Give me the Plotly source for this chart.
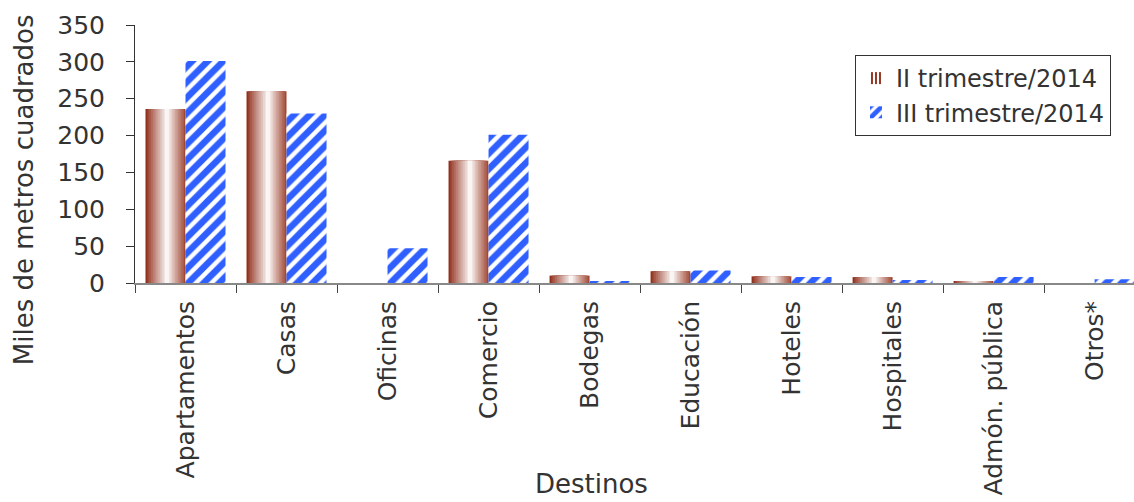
import plotly.graph_objects as go

categories = ["Apartamentos", "Casas", "Oficinas", "Comercio", "Bodegas",
              "Educación", "Hoteles", "Hospitales", "Admón. pública", "Otros*"]
serie_ii = [236, 260, 0, 166, 10, 16, 9, 8, 2.5, 0]
serie_iii = [301, 230, 47, 201, 2, 17, 8, 4, 8, 5]
y_ticks = [0, 50, 100, 150, 200, 250, 300, 350]
name_ii = "II trimestre/2014"
name_iii = "III trimestre/2014"

FONT = "DejaVu Sans"
TXT = "#333333"
BROWN_L = (145, 48, 28)
BROWN_R = (160, 72, 52)
BAR_W = 0.396
WHITE_AT = 0.55
N_LAYERS = 12


def mix(c, t):
    return "rgb(%d,%d,%d)" % tuple(int(round(255 * (1 - t) + v * t)) for v in c)


fig = go.Figure()

# left half of the cylinder-like gradient bars (series II)
for k in range(N_LAYERS):
    t = 1.0 if k == 0 else 1 - (k + 0.5) / N_LAYERS
    w = BAR_W * WHITE_AT * (1 - k / N_LAYERS)
    start = -BAR_W + BAR_W * WHITE_AT * k / N_LAYERS
    fig.add_trace(go.Bar(
        x=categories, y=serie_ii, width=w, offset=start, opacity=1,
        marker=dict(color=mix(BROWN_L, t), line=dict(width=0)),
        showlegend=False, hoverinfo="skip"))

# right half
for k in range(N_LAYERS):
    t = 1.0 if k == 0 else 1 - (k + 0.5) / N_LAYERS
    w = BAR_W * (1 - WHITE_AT) * (1 - k / N_LAYERS)
    start = -BAR_W + BAR_W * WHITE_AT
    fig.add_trace(go.Bar(
        x=categories, y=serie_ii, width=w, offset=start, opacity=1,
        marker=dict(color=mix(BROWN_R, t ** 0.9), line=dict(width=0)),
        showlegend=False, hoverinfo="skip"))

# legend entry for series II
fig.add_trace(go.Bar(
    x=[None], y=[None], name=name_ii, legendgroup="a", opacity=1,
    marker=dict(color="rgb(150,55,35)", line=dict(width=0),
                pattern=dict(shape="|", fgcolor="white", bgcolor="rgb(150,55,35)",
                             size=5, solidity=0.5, fgopacity=1, fillmode="replace"))))

# series III: blue diagonal pattern
fig.add_trace(go.Bar(
    x=categories, y=serie_iii, width=BAR_W, offset=0.0, name=name_iii, legendgroup="b",
    opacity=1,
    marker=dict(color="white", opacity=1, line=dict(width=0),
                pattern=dict(shape="/", fgcolor="#2f5fff", bgcolor="white",
                             size=11, solidity=0.6, fgopacity=1, fillmode="replace"))))

fig.update_layout(
    width=1134, height=502,
    margin=dict(l=135, r=0, t=25, b=219, autoexpand=False),
    barmode="overlay",
    paper_bgcolor="white", plot_bgcolor="white",
    font=dict(family=FONT, color=TXT, size=25),
    showlegend=True,
    legend=dict(x=0.7207, y=0.8837, xanchor="left", yanchor="top",
                bordercolor="#333333", borderwidth=1, bgcolor="white",
                font=dict(family=FONT, size=24, color=TXT),
                tracegroupgap=0, traceorder="grouped"),
    xaxis=dict(range=[-0.5, 9.39], showline=True, linecolor="#888888", linewidth=2,
               ticks="outside", tickson="boundaries", ticklen=8, tickcolor="#444444",
               tickangle=-90, tickfont=dict(family=FONT, size=25, color=TXT),
               showgrid=False, zeroline=False, ticklabelstandoff=6, automargin=False),
    yaxis=dict(range=[0, 350], tickvals=y_ticks, showline=True, linecolor="#333333",
               linewidth=1, ticks="outside", ticklen=8, tickcolor="#333333",
               tickfont=dict(family=FONT, size=25, color=TXT),
               showgrid=False, zeroline=False, ticklabelstandoff=16, automargin=False),
    annotations=[
        dict(text="Miles de metros cuadrados", xref="paper", yref="paper",
             x=-0.1111, y=0.36, xanchor="center", yanchor="middle", textangle=-90,
             showarrow=False, font=dict(family=FONT, size=26, color=TXT)),
        dict(text="Destinos", xref="paper", yref="paper",
             x=0.4565, y=-0.78, xanchor="center", yanchor="middle",
             showarrow=False, font=dict(family=FONT, size=26, color=TXT)),
    ],
)

fig.write_html("out.html", config={"displayModeBar": False},
               post_script="document.body.style.margin='0';document.body.style.overflow='hidden';")
